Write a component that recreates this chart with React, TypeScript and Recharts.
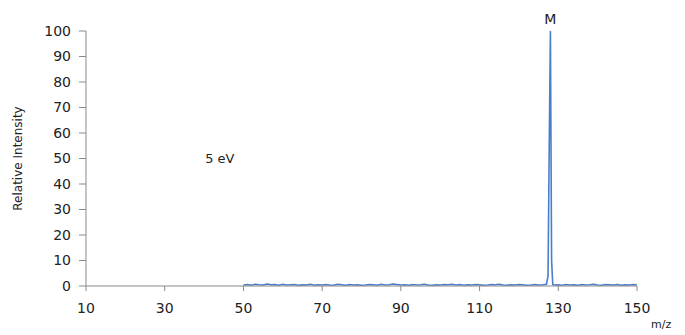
import { LineChart, Line, XAxis, YAxis, ReferenceDot } from 'recharts';

// m/z positions (baseline sampled every 1 unit, finer around the molecular ion)
const mz = [
  50, 51, 52, 53, 54, 55, 56, 57, 58, 59, 60, 61, 62, 63, 64, 65, 66, 67, 68, 69,
  70, 71, 72, 73, 74, 75, 76, 77, 78, 79, 80, 81, 82, 83, 84, 85, 86, 87, 88, 89,
  90, 91, 92, 93, 94, 95, 96, 97, 98, 99, 100, 101, 102, 103, 104, 105, 106, 107, 108, 109,
  110, 111, 112, 113, 114, 115, 116, 117, 118, 119, 120, 121, 122, 123, 124, 125, 126, 127,
  127.4, 127.7, 128, 128.3, 128.6,
  129, 130, 131, 132, 133, 134, 135, 136, 137, 138, 139, 140, 141, 142, 143, 144, 145, 146,
  147, 148, 149, 150,
];

const intensity = [
  0.4, 0.6, 0.3, 0.7, 0.5, 0.4, 0.8, 0.5, 0.6, 0.3, 0.7, 0.4, 0.5, 0.6, 0.3, 0.5, 0.4, 0.7, 0.3, 0.5,
  0.4, 0.6, 0.3, 0.4, 0.7, 0.5, 0.3, 0.6, 0.4, 0.5, 0.3, 0.4, 0.6, 0.5, 0.3, 0.7, 0.4, 0.5, 0.8, 0.6,
  0.4, 0.5, 0.3, 0.6, 0.4, 0.5, 0.7, 0.4, 0.3, 0.5, 0.4, 0.6, 0.5, 0.7, 0.4, 0.6, 0.3, 0.5, 0.4, 0.6,
  0.5, 0.3, 0.4, 0.6, 0.5, 0.7, 0.4, 0.3, 0.5, 0.4, 0.6, 0.5, 0.3, 0.4, 0.6, 0.4, 0.5, 0.7,
  4, 55, 100, 10, 0.6,
  0.4, 0.5, 0.3, 0.6, 0.4, 0.5, 0.3, 0.6, 0.4, 0.5, 0.7, 0.4, 0.3, 0.6, 0.5, 0.4, 0.6, 0.3,
  0.5, 0.4, 0.6, 0.4,
];

const xTicks = [10, 30, 50, 70, 90, 110, 130, 150];
const yTicks = [0, 10, 20, 30, 40, 50, 60, 70, 80, 90, 100];

const data = mz.map((m, i) => ({ mz: m, value: intensity[i] }));

const axisColor = '#898989';
const font = 'DejaVu Sans, sans-serif';

export default function App() {
  return (
    <div style={{ position: 'absolute', left: 0, top: 0, width: 685, height: 335, background: '#fff' }}>
      <LineChart width={685} height={335} data={data} margin={{ top: 31, right: 48, bottom: 0, left: 0 }}>
        <XAxis
          dataKey="mz"
          type="number"
          domain={[10, 150]}
          ticks={xTicks}
          allowDataOverflow
          height={49}
          stroke={axisColor}
          tickSize={5}
          tickMargin={12}
          tick={{ fill: '#222', fontSize: 14, fontFamily: font }}
        />
        <YAxis
          type="number"
          domain={[0, 100]}
          ticks={yTicks}
          width={86}
          stroke={axisColor}
          tickSize={7}
          tickMargin={8}
          tick={{ fill: '#222', fontSize: 14, fontFamily: font }}
          label={{
            value: 'Relative Intensity',
            angle: -90,
            position: 'insideLeft',
            offset: 18,
            style: { textAnchor: 'middle', fill: '#222', fontSize: 12, fontFamily: font },
          }}
        />
        <Line
          type="linear"
          dataKey="value"
          stroke="#4a7ec8"
          strokeWidth={1.6}
          dot={false}
          isAnimationActive={false}
        />
        <ReferenceDot
          x={128}
          y={100}
          r={0}
          ifOverflow="visible"
          label={{ value: 'M', position: 'top', offset: 7, fill: '#222', fontSize: 14, fontFamily: font }}
        />
        <ReferenceDot
          x={44}
          y={50}
          r={0}
          label={{ value: '5 eV', position: 'center', fill: '#222', fontSize: 13, fontFamily: font }}
        />
      </LineChart>
      <div style={{ position: 'absolute', left: 651, top: 318, fontSize: 11, fontFamily: font, color: '#222' }}>
        m/z
      </div>
    </div>
  );
}
